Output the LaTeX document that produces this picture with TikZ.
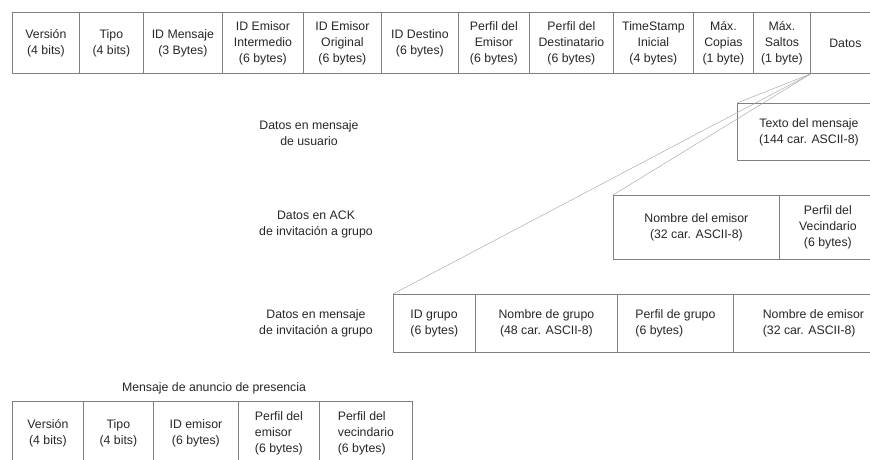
\documentclass[tikz,border=0pt]{standalone}
\usepackage{fontspec}
\setmainfont{Liberation Sans}
\begin{document}
\begin{tikzpicture}[x=1pt,y=-1pt,
  every node/.style={font=\fontsize{12.3}{16}\selectfont, text=black!85},
  cell/.style={draw=black!50, line width=0.8pt, rectangle, anchor=north west, inner sep=0pt, align=center},
  lcell/.style={cell, align=left},
  lbl/.style={align=center, inner sep=0pt},
  fan/.style={draw=black!35, line width=0.45pt}]
\useasboundingbox (0,0) rectangle (870,460);
\clip (0,0) rectangle (870,460);
% top row
\node[cell, minimum width=67, minimum height=61] (ver) at (12,12) {Versión\\(4 bits)};
\node[cell, minimum width=64, minimum height=61] (tipo) at (79,12) {Tipo\\(4 bits)};
\node[cell, minimum width=79, minimum height=61] (idm) at (143,12) {ID Mensaje\\(3 Bytes)};
\node[cell, minimum width=81, minimum height=61] (idei) at (222,12) {ID Emisor\\Intermedio\\(6 bytes)};
\node[cell, minimum width=78, minimum height=61] (ideo) at (303,12) {ID Emisor\\Original\\(6 bytes)};
\node[cell, minimum width=77, minimum height=61] (idd) at (381,12) {ID Destino\\(6 bytes)};
\node[cell, minimum width=71, minimum height=61] (pe) at (458,12) {Perfil del\\Emisor\\(6 bytes)};
\node[cell, minimum width=84, minimum height=61] (pd) at (529,12) {Perfil del\\Destinatario\\(6 bytes)};
\node[cell, minimum width=80, minimum height=61] (ts) at (613,12) {TimeStamp\\Inicial\\(4 bytes)};
\node[cell, minimum width=60, minimum height=61] (mc) at (693,12) {Máx.\\Copias\\(1 byte)};
\node[cell, minimum width=57, minimum height=61] (ms) at (753,12) {Máx.\\Saltos\\(1 byte)};
\node[cell, minimum width=70, minimum height=61] (datos) at (810,12) {Datos};
% user message data
\node[lbl] (l1) at (309,133) {Datos en mensaje\\de usuario};
\node[cell, minimum width=143, minimum height=57] (texto) at (737,103) {Texto del mensaje\\(144 car. ASCII-8)};
% ACK data
\node[lbl] (l2) at (316,224) {Datos en ACK\\de invitación a grupo};
\node[cell, minimum width=166, minimum height=64] (ne) at (613,195) {Nombre del emisor\\(32 car. ASCII-8)};
\node[cell, minimum width=97, minimum height=64] (pv) at (779,195) {Perfil del\\Vecindario\\(6 bytes)};
% invitation data
\node[lbl] (l3) at (316,323) {Datos en mensaje\\de invitación a grupo};
\node[lcell, minimum width=82, minimum height=58] (ig) at (393,294) {ID grupo\\(6 bytes)};
\node[cell, minimum width=142, minimum height=58] (ng) at (475,294) {Nombre de grupo\\(48 car. ASCII-8)};
\node[lcell, minimum width=116, minimum height=58] (pg) at (617,294) {Perfil de grupo\\(6 bytes)};
\node[lcell, minimum width=160, minimum height=58] (nde) at (733,294) {Nombre de emisor\\(32 car. ASCII-8)};
% fan lines
\draw[fan] (ms.south east) -- (texto.north west);
\draw[fan] (ms.south east) -- (ne.north west);
\draw[fan] (ms.south east) -- (ig.north west);
% presence message
\node[lbl] (l4) at (214,388) {Mensaje de anuncio de presencia};
\node[cell, minimum width=71, minimum height=64] (bver) at (12,401) {Versión\\(4 bits)};
\node[cell, minimum width=70, minimum height=64] (btipo) at (83,401) {Tipo\\(4 bits)};
\node[cell, minimum width=85, minimum height=64] (bid) at (153,401) {ID emisor\\(6 bytes)};
\node[lcell, minimum width=81, minimum height=64] (bpe) at (238,401) {Perfil del\\emisor\\(6 bytes)};
\node[lcell, minimum width=93, minimum height=64] (bpv) at (319,401) {Perfil del\\vecindario\\(6 bytes)};
\end{tikzpicture}
\end{document}
